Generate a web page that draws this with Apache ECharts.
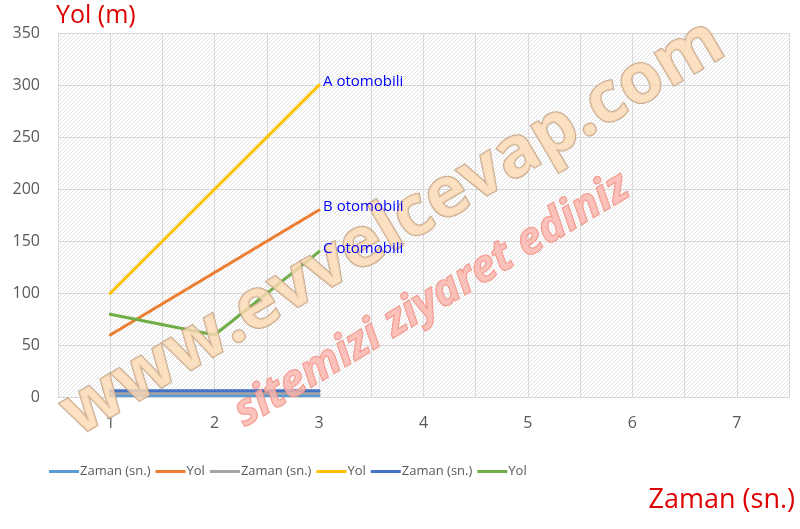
<!DOCTYPE html>
<html><head><meta charset="utf-8">
<script src="https://cdn.jsdelivr.net/npm/echarts@6/dist/echarts.min.js"></script>
<style>html,body{margin:0;padding:0;background:#fff}#c{width:800px;height:529px}</style>
</head><body><div id="c"></div>
<script>
const times = [1, 2, 3];
const zaman1 = [2, 2, 2];
const yolB = [60, 120, 180];
const zaman2 = [4, 4, 4];
const yolA = [100, 200, 300];
const zaman3 = [6.5, 6.5, 6.5];
const yolC = [80, 60, 140];
const xTicks = [1, 2, 3, 4, 5, 6, 7];
const seriesNames = ['Zaman (sn.)', 'Yol', 'Zaman (sn.)', 'Yol', 'Zaman (sn.)', 'Yol'];
const carNames = ['A otomobili', 'B otomobili', 'C otomobili'];

const pc = document.createElement('canvas');
pc.width = 4; pc.height = 4;
const g = pc.getContext('2d');
g.fillStyle = '#ffffff'; g.fillRect(0, 0, 4, 4);
g.strokeStyle = '#e2e2e2'; g.lineWidth = 1;
g.beginPath(); g.moveTo(0, 4); g.lineTo(4, 0); g.stroke();

const chart = echarts.init(document.getElementById('c'), null, {renderer: 'canvas'});
const colors = ['#5b9bd5', '#ed7d31', '#a5a5a5', '#ffc000', '#4472c4', '#70ad47'];
const datas = [zaman1, yolB, zaman2, yolA, zaman3, yolC].map(v => v.map((y, i) => [times[i], y]));
const series = datas.map((d, i) => ({
  name: seriesNames[i] + '#' + i,
  type: 'line', data: d, symbol: 'none', smooth: false,
  lineStyle: {width: 3, color: colors[i], cap: 'round'},
  itemStyle: {color: colors[i]},
  z: 2
}));
const last = times.length - 1;
const labelPts = [[times[last], yolA[last], carNames[0]], [times[last], yolB[last], carNames[1]], [times[last], yolC[last], carNames[2]]];
series.push({
  name: 'labels', type: 'scatter', data: labelPts, symbolSize: 2, itemStyle: {color: 'rgba(0,0,0,0)', opacity: 1}, z: 10,
  label: {show: true, position: 'right', distance: 3, offset: [0, -3], formatter: p => p.value[2],
    color: '#0000ff', opacity: 1, fontSize: 15, fontFamily: 'Open Sans, sans-serif'}
});

chart.setOption({
  animation: false,
  grid: {left: 58, right: 11, top: 33, bottom: 131.5, show: true, borderWidth: 0,
    backgroundColor: {image: pc, repeat: 'repeat'}},
  xAxis: {type: 'value', min: 0.5, max: 7.5, interval: 0.5,
    axisLine: {show: true, lineStyle: {color: '#d9d9d9', width: 1}},
    axisTick: {show: false},
    axisLabel: {margin: 18, color: '#595959', fontSize: 16, fontFamily: 'Open Sans, sans-serif',
      formatter: v => (xTicks.indexOf(v) >= 0 ? String(v) : ''), showMinLabel: false, showMaxLabel: false},
    splitLine: {show: true, lineStyle: {color: '#d9d9d9', width: 1}}
  },
  yAxis: {type: 'value', min: 0, max: 350, interval: 50,
    axisLine: {show: false}, axisTick: {show: false},
    axisLabel: {margin: 18, color: '#595959', fontSize: 16, fontFamily: 'Open Sans, sans-serif'},
    splitLine: {show: true, lineStyle: {color: '#d9d9d9', width: 1}}
  },
  legend: {left: 44, top: 460, itemWidth: 30, itemHeight: 3, itemGap: 5, icon: 'rect',
    textStyle: {color: '#595959', fontSize: 13, fontFamily: "'Open Sans', sans-serif", padding: [0, 0, 0, -4]},
    formatter: n => n.replace(/#\d+$/, ''),
    data: series.slice(0, 6).map(s => s.name)
  },
  graphic: [
    {type: 'text', left: 56, top: 3, z: 10, style: {text: 'Yol (m)', fill: '#dd0000', fontSize: 25, fontFamily: 'Open Sans, sans-serif'}},
    {type: 'text', right: 5, top: 487, z: 10, style: {text: 'Zaman (sn.)', fill: '#dd0000', fontSize: 27, fontFamily: 'Open Sans, sans-serif'}},
    {type: 'text', x: 393, y: 228, rotation: 30.5 * Math.PI / 180, z: 5,
      style: {text: 'www.evvelcevap.com', align: 'center', verticalAlign: 'middle', fill: 'rgba(252,218,180,0.8)',
        stroke: 'rgba(190,160,130,0.85)', lineWidth: 2, fontSize: 70, fontWeight: 'bold', fontFamily: 'Open Sans, sans-serif'}},
    {type: 'text', x: 432, y: 300, rotation: 31 * Math.PI / 180, z: 6,
      style: {text: 'sitemizi ziyaret ediniz', align: 'center', verticalAlign: 'middle', fill: 'rgba(250,180,170,0.8)',
        stroke: 'rgba(240,140,130,0.9)', lineWidth: 1.5, fontSize: 44, fontWeight: 'bold', fontStyle: 'italic', fontFamily: 'Open Sans, sans-serif'}}
  ],
  series: series
});
</script></body></html>
